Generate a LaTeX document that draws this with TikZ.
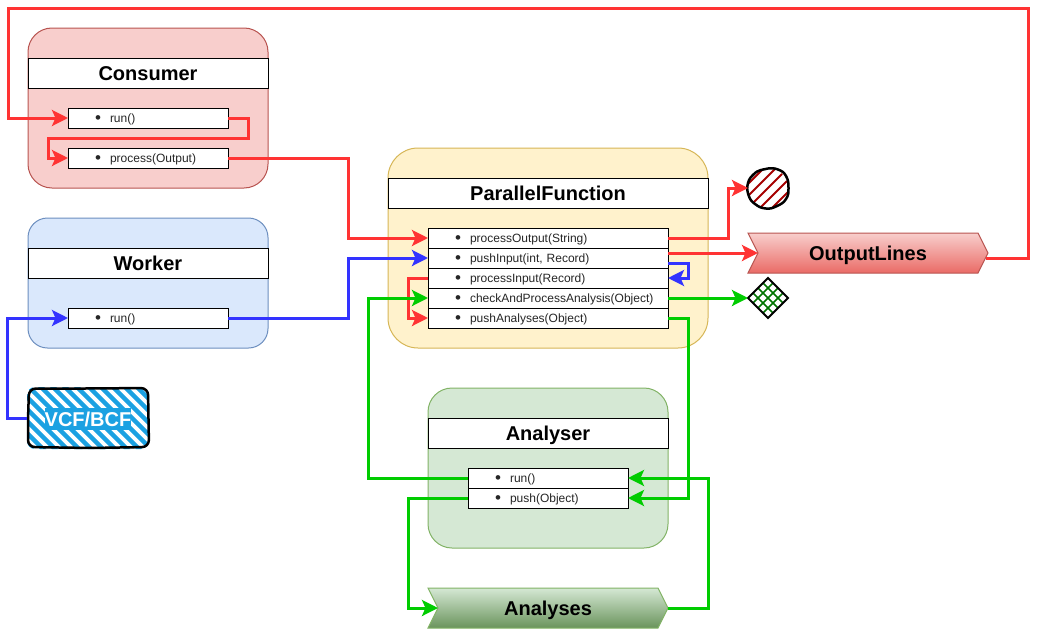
\documentclass[tikz,border=0pt]{standalone}
\usepackage{fontspec}
\setmainfont{Liberation Sans}
\usetikzlibrary{arrows.meta,calc,shapes.geometric,shapes.symbols}

\definecolor{linered}{HTML}{FF3333}
\definecolor{lineblue}{HTML}{3333FF}
\definecolor{linegreen}{HTML}{00CC00}
\definecolor{hatchblue}{HTML}{1BA1E2}

\newcommand{\meth}[1]{\hspace*{27pt}\makebox[15pt][l]{\raisebox{-1pt}{\fontsize{17}{17}\selectfont\textbullet}}#1}

\tikzset{
  body/.style={anchor=north west,line width=1pt,inner sep=0,outer sep=0},
  bar/.style={draw=black,line width=1pt,fill=white,anchor=north west,inner sep=0,outer sep=0,minimum height=30pt,text height=15pt,text depth=0pt,font=\fontsize{20}{24}\selectfont\bfseries},
  item/.style={draw=black,line width=1pt,fill=white,anchor=north west,inner sep=0,outer sep=0,minimum height=20pt,text width=#1,text height=9pt,text depth=0pt,align=left,font=\fontsize{12}{14}\selectfont,text=black!85},
  flag/.style n args={2}{shape=signal,signal to=east,signal from=west,signal pointer angle=126.87,line width=1pt,top color=#1,bottom color=#2,anchor=center,inner sep=0,outer sep=0,minimum width=240pt,minimum height=40pt,text height=15pt,text depth=0pt,font=\fontsize{20}{24}\selectfont\bfseries},
  sketch/.style={draw=black,line width=2.5pt,line join=round},
  wire/.style={line width=3pt,color=#1,-{Stealth[length=16pt,width=16pt,inset=3.5pt]}},
}

\begin{document}
\begin{tikzpicture}[x=1pt,y=-1pt]
\useasboundingbox (0,0) rectangle (1038,629);

% Consumer
\node[body,fill={rgb,255:red,248;green,206;blue,204},draw={rgb,255:red,184;green,84;blue,80},rounded corners=24pt,minimum width=240pt,minimum height=160pt] (consumer) at (28,28) {};
\node[bar,minimum width=240pt] (consumerbar) at (28,58) {Consumer};
\node[item=160pt] (conrun) at (68,108) {\meth{run()}};
\node[item=160pt] (conproc) at (68,148) {\meth{process(Output)}};

% Worker
\node[body,fill={rgb,255:red,218;green,232;blue,252},draw={rgb,255:red,108;green,142;blue,191},rounded corners=19.5pt,minimum width=240pt,minimum height=130pt] (worker) at (28,218) {};
\node[bar,minimum width=240pt] (workerbar) at (28,248) {Worker};
\node[item=160pt] (workrun) at (68,308) {\meth{run()}};

% input file
\node[rounded corners=8pt,inner sep=0,outer sep=0,minimum width=122pt,minimum height=62pt,
  path picture={
    \foreach \d in {-84,-72,...,132}
      \draw[hatchblue,line width=4.5pt] ($(path picture bounding box.north west)+(\d,-2)$) -- ++(70,70);
  }] (vcf) at (88,418) {};
\draw[sketch,rounded corners=7pt] (29,388.5) -- (89,388.5) -- (148,388) -- (148.5,419) -- (149,447) -- (90,448) -- (28,447) -- (28,420) -- cycle;
\node[fill=hatchblue,text=white,inner sep=0,minimum width=86pt,minimum height=22pt,text height=15pt,text depth=0pt,font=\fontsize{20}{24}\selectfont\bfseries] (vcftext) at (88,419) {VCF/BCF};

% ParallelFunction
\node[body,fill={rgb,255:red,255;green,242;blue,204},draw={rgb,255:red,214;green,182;blue,86},rounded corners=30pt,minimum width=320pt,minimum height=200pt] (parallel) at (388,148) {};
\node[bar,minimum width=320pt] (parallelbar) at (388,178) {ParallelFunction};
\node[item=240pt] (poutput) at (428,228) {\meth{processOutput(String)}};
\node[item=240pt] (pushinput) at (428,248) {\meth{pushInput(int, Record)}};
\node[item=240pt] (pinput) at (428,268) {\meth{processInput(Record)}};
\node[item=240pt] (checkproc) at (428,288) {\meth{checkAndProcessAnalysis(Object)}};
\node[item=240pt] (pushana) at (428,308) {\meth{pushAnalyses(Object)}};

% Analyser
\node[body,fill={rgb,255:red,213;green,232;blue,212},draw={rgb,255:red,130;green,179;blue,102},rounded corners=24pt,minimum width=240pt,minimum height=160pt] (analyser) at (428,388) {};
\node[bar,minimum width=240pt] (analyserbar) at (428,418) {Analyser};
\node[item=160pt] (anarun) at (468,468) {\meth{run()}};
\node[item=160pt] (anapush) at (468,488) {\meth{push(Object)}};

% outputs
\node[flag={{rgb,255:red,248;green,206;blue,204}}{{rgb,255:red,234;green,107;blue,102}},draw={rgb,255:red,184;green,84;blue,80}] (outlines) at (868,253) {OutputLines};
\node[flag={{rgb,255:red,213;green,232;blue,212}}{{rgb,255:red,106;green,148;blue,92}},draw={rgb,255:red,130;green,179;blue,102}] (analyses) at (548,608) {Analyses};

\node[circle,inner sep=0,outer sep=0,minimum size=40pt,
  path picture={
    \foreach \d in {-24,-12,0,12,24}
      \draw[red!65!black,line width=1.8pt] ($(path picture bounding box.center)+(\d-25,25)$) -- ++(50,-50);
  }] (endcircle) at (768,188) {};
\draw[sketch,shift={(endcircle.center)}] plot[smooth cycle,tension=0.8] coordinates {(0,-19.5) (10,-18.5) (18,-12) (20.5,0) (18,11) (9,18) (-2,20.5) (-13,16) (-19.5,7) (-20,-5) (-14,-14) (-7,-18)};
\node[diamond,draw=black,line width=2pt,inner sep=0,outer sep=0,minimum size=40pt,
  path picture={
    \foreach \d in {-10,0,10} {
      \draw[green!45!black,line width=1.5pt] ($(path picture bounding box.center)+(\d-25,-25)$) -- ++(50,50);
      \draw[green!45!black,line width=1.5pt] ($(path picture bounding box.center)+(\d-25,25)$) -- ++(50,-50);
    }
  }] (endmark) at (768,298) {};

% connectors
\draw[wire=linered] ($(outlines.east)+(-2,5)$) -- ++(42,0) -- ++(0,-250) -- (8,8) |- (conrun.west);
\draw[wire=linered] (conrun.east) -- ++(20,0) -- ++(0,20) -- ++(-200,0) |- (conproc.west);
\draw[wire=linered] (conproc.east) -- ++(120,0) |- (poutput.west);
\draw[wire=lineblue] (workrun.east) -- ++(120,0) |- (pushinput.west);
\draw[wire=lineblue] (vcf.west) -- ++(-20,0) |- (workrun.west);
\draw[wire=linered] (poutput.east) -- ++(60,0) |- (endcircle.west);
\draw[wire=linered] ($(pushinput.east)+(0,-5)$) -- (outlines.west);
\draw[wire=lineblue] ($(pushinput.east)+(0,5)$) -- ++(20,0) |- (pinput.east);
\draw[wire=linered] (pinput.west) -- ++(-20,0) |- (pushana.west);
\draw[wire=linegreen] (checkproc.east) -- (endmark.west);
\draw[wire=linegreen] (pushana.east) -- ++(20,0) |- (anapush.east);
\draw[wire=linegreen] (anarun.west) -- ++(-100,0) |- (checkproc.west);
\draw[wire=linegreen] (anapush.west) -- ++(-60,0) |- (analyses.west);
\draw[wire=linegreen] (analyses.east) -- ++(40,0) |- (anarun.east);
\end{tikzpicture}
\end{document}
